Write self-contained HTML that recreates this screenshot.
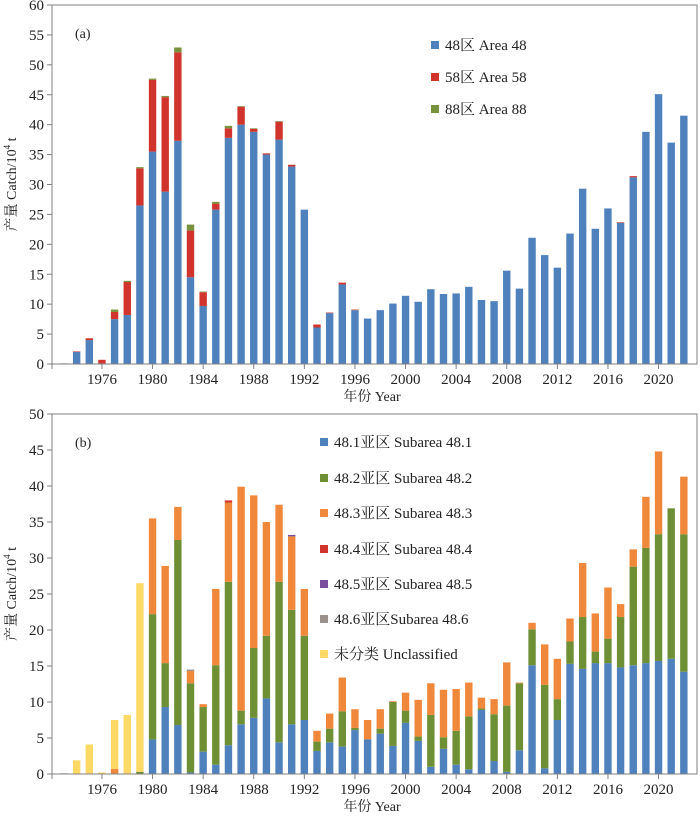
<!DOCTYPE html>
<html><head><meta charset="utf-8">
<style>
html,body{margin:0;padding:0;background:#fff;}
svg{display:block;}
svg text{font-family:"Liberation Serif","Noto Serif CJK SC","Noto Sans CJK SC",serif;}
</style></head>
<body>
<svg id="chart" width="700" height="816" viewBox="0 0 700 816"></svg>
<script>
const years = [];
for (let y = 1973; y <= 2022; y++) years.push(y);
// Panel (a)
const area48 = [0.1,2.0,4.0,0.1,7.5,8.2,26.5,35.5,28.8,37.3,14.5,9.7,25.8,37.8,40.0,38.8,35.0,37.5,33.0,25.8,6.1,8.5,13.3,9.0,7.6,9.0,10.1,11.4,10.4,12.5,11.7,11.8,12.9,10.7,10.5,15.6,12.6,21.1,18.2,16.1,21.8,29.3,22.6,26.0,23.6,31.2,38.8,45.1,37.0,41.5];
const area58 = [0,0.1,0.3,0.6,1.2,5.5,6.2,12.0,15.8,14.8,7.8,2.3,1.0,1.6,3.0,0.5,0.2,3.0,0.3,0,0.5,0.1,0.3,0.1,0,0,0,0,0,0,0,0,0,0,0,0,0,0,0,0,0,0,0,0,0.1,0.2,0,0,0,0];
const area88 = [0,0,0,0,0.4,0.2,0.2,0.2,0.2,0.8,1.0,0.1,0.3,0.4,0.1,0.1,0,0.1,0,0,0,0,0,0,0,0,0,0,0,0,0,0,0,0,0,0,0,0,0,0,0,0,0,0,0,0,0,0,0,0];
// Panel (b)
const sub481 = [0,0,0,0,0,0,0,4.8,9.3,6.8,0.2,3.1,1.3,4.0,6.9,7.8,10.5,4.4,6.9,7.5,3.2,4.4,3.8,6.1,4.8,5.6,3.9,7.1,4.6,1.0,3.5,1.3,0.65,8.9,1.8,0.3,3.3,15.1,0.8,7.5,15.3,14.6,15.4,15.4,14.8,15.1,15.4,15.7,16.0,14.2];
const sub482 = [0,0,0,0,0,0,0.3,17.4,6.1,25.7,12.4,6.2,13.8,22.7,1.9,9.7,8.7,22.3,15.9,11.7,1.3,1.9,4.9,0.3,0,0.7,6.1,1.7,0.6,7.2,1.6,4.7,7.35,0.2,6.5,9.2,9.3,5.0,11.6,2.9,3.1,7.2,1.6,3.4,7.0,13.7,16.0,17.6,20.9,19.1];
const sub483 = [0,0,0,0,0.7,0,0,13.3,13.5,4.6,1.7,0.4,10.6,11.0,31.1,21.2,15.8,10.7,10.2,6.5,1.5,2.1,4.7,2.6,2.7,2.7,0.1,2.5,5.1,4.4,6.6,5.8,4.7,1.5,2.1,6.0,0.1,0.9,5.6,5.6,3.2,7.5,5.3,7.1,1.8,2.4,7.1,11.5,0,8.0];
const sub484 = [0,0,0,0,0,0,0,0,0,0,0,0,0,0.3,0,0,0,0,0,0,0,0,0,0,0,0,0,0,0,0,0,0,0,0,0,0,0,0,0,0,0,0,0,0,0,0,0,0,0,0];
const sub485 = [0,0,0,0,0,0,0,0,0,0,0,0,0,0,0,0,0,0,0.2,0,0,0,0,0,0,0,0,0,0,0,0,0,0,0,0,0,0,0,0,0,0,0,0,0,0,0,0,0,0,0];
const sub486 = [0.1,0,0,0,0,0,0,0,0,0,0.2,0,0,0,0,0,0,0,0,0,0,0,0,0,0,0,0,0,0,0,0,0,0,0,0,0,0,0,0,0,0,0,0,0,0,0,0,0,0,0];
const unclassified = [0,1.9,4.1,0.2,6.8,8.2,26.2,0,0,0,0,0,0,0,0,0,0,0,0,0,0,0,0,0,0,0,0,0,0,0,0,0,0,0,0,0,0,0,0,0,0,0,0,0,0,0,0,0,0,0];
const xTickYears = [1976,1980,1984,1988,1992,1996,2000,2004,2008,2012,2016,2020];
const yTicksA = [0,5,10,15,20,25,30,35,40,45,50,55,60];
const yTicksB = [0,5,10,15,20,25,30,35,40,45,50];

const NS = 'http://www.w3.org/2000/svg';
const FF = '"Liberation Serif","Noto Serif CJK SC","Noto Sans CJK SC",serif';
const svg = document.getElementById('chart');
function mk(tag, attrs, parent) {
  const e = document.createElementNS(NS, tag);
  for (const k in attrs) e.setAttribute(k, attrs[k]);
  if (tag === 'text') e.setAttribute('font-family', FF);
  (parent || svg).appendChild(e);
  return e;
}
const X0 = 52, X1 = 697;
const xScale = y => 64 + (y - 1973) * 12.65;
const BW = 7.4;

function panel(top, bottom, maxV, yTicks, series, colors, names, label, pname) {
  const g = mk('g', {});
  
  
  const yS = v => bottom - v / maxV * (bottom - top);
  years.forEach((yr, i) => {
    let base = 0;
    series.forEach((s, si) => {
      const v = s[i];
      if (v <= 0) return;
      const r = mk('rect', {x: xScale(yr) - BW / 2, y: yS(base + v), width: BW, height: yS(base) - yS(base + v), fill: colors[si]}, g);
      
      
      base += v;
    });
  });
  const fr = mk('rect', {x: X0, y: top, width: X1 - X0, height: bottom - top, fill: 'none', stroke: '#808080', 'stroke-width': 1}, g);
  
  
  yTicks.forEach(t => {
    mk('line', {x1: X0 - 5, x2: X0, y1: yS(t), y2: yS(t), stroke: '#808080'}, g);
    const tx = mk('text', {x: X0 - 8, y: yS(t) + 5, 'text-anchor': 'end', 'font-size': 15, fill: '#222'}, g);
    tx.textContent = t;
    
    
  });
  mk('line', {x1: X0, x2: X0, y1: bottom, y2: bottom + 5, stroke: '#808080'}, g);
  xTickYears.forEach(t => {
    mk('line', {x1: xScale(t), x2: xScale(t), y1: bottom, y2: bottom + 5, stroke: '#808080'}, g);
    const tx = mk('text', {x: xScale(t), y: bottom + 20, 'text-anchor': 'middle', 'font-size': 15, fill: '#222'}, g);
    tx.textContent = t;
    
    
  });
  const xt = mk('text', {x: 372, y: bottom + 37, 'text-anchor': 'middle', 'font-size': 14, fill: '#222'}, g);
  xt.textContent = '年份 Year';
  
  
  const cy = (top + bottom) / 2;
  const yt = mk('text', {x: 0, y: 0, transform: 'translate(16,' + cy + ') rotate(-90)', 'text-anchor': 'middle', 'font-size': 14, fill: '#222'}, g);
  yt.innerHTML = '产量 Catch/10<tspan dy="-6" font-size="9">4</tspan><tspan dy="6"> t</tspan>';
  
  
  const pl = mk('text', {x: 75, y: top + 33, 'font-size': 14, fill: '#222'}, g);
  pl.textContent = label;
  
  
  return g;
}

const colA = ['#4f81bd', '#d0342c', '#76923c'];
panel(5, 364, 60, yTicksA, [area48, area58, area88], colA, ['area48', 'area58', 'area88'], '(a)', 'panel-a');
const colB = ['#4f81bd', '#6f8f35', '#f0883c', '#d0342c', '#7a4c9c', '#9b918c', '#ffd966'];
panel(414, 774, 50, yTicksB, [sub481, sub482, sub483, sub484, sub485, sub486, unclassified], colB, ['48-1', '48-2', '48-3', '48-4', '48-5', '48-6', 'unclassified'], '(b)', 'panel-b');

const legA = ['48区 Area 48', '58区 Area 58', '88区 Area 88'];
const legAy = [45, 77, 109];
legA.forEach((t, i) => {
  const g = mk('g', {});
  
  
  mk('rect', {x: 431, y: legAy[i] - 4, width: 8, height: 8, fill: colA[i]}, g);
  const tx = mk('text', {x: 445, y: legAy[i] + 5, 'font-size': 15, fill: '#222'}, g);
  tx.textContent = t;
});
const legB = ['48.1亚区 Subarea 48.1', '48.2亚区 Subarea 48.2', '48.3亚区 Subarea 48.3', '48.4亚区 Subarea 48.4', '48.5亚区 Subarea 48.5', '48.6亚区Subarea 48.6', '未分类 Unclassified'];
const legBy = [442, 478, 513, 549, 584, 619, 654];
legB.forEach((t, i) => {
  const g = mk('g', {});
  
  
  mk('rect', {x: 320, y: legBy[i] - 4, width: 8, height: 8, fill: colB[i]}, g);
  const tx = mk('text', {x: 334, y: legBy[i] + 5, 'font-size': 15, fill: '#222'}, g);
  tx.textContent = t;
});
</script>
</body></html>
